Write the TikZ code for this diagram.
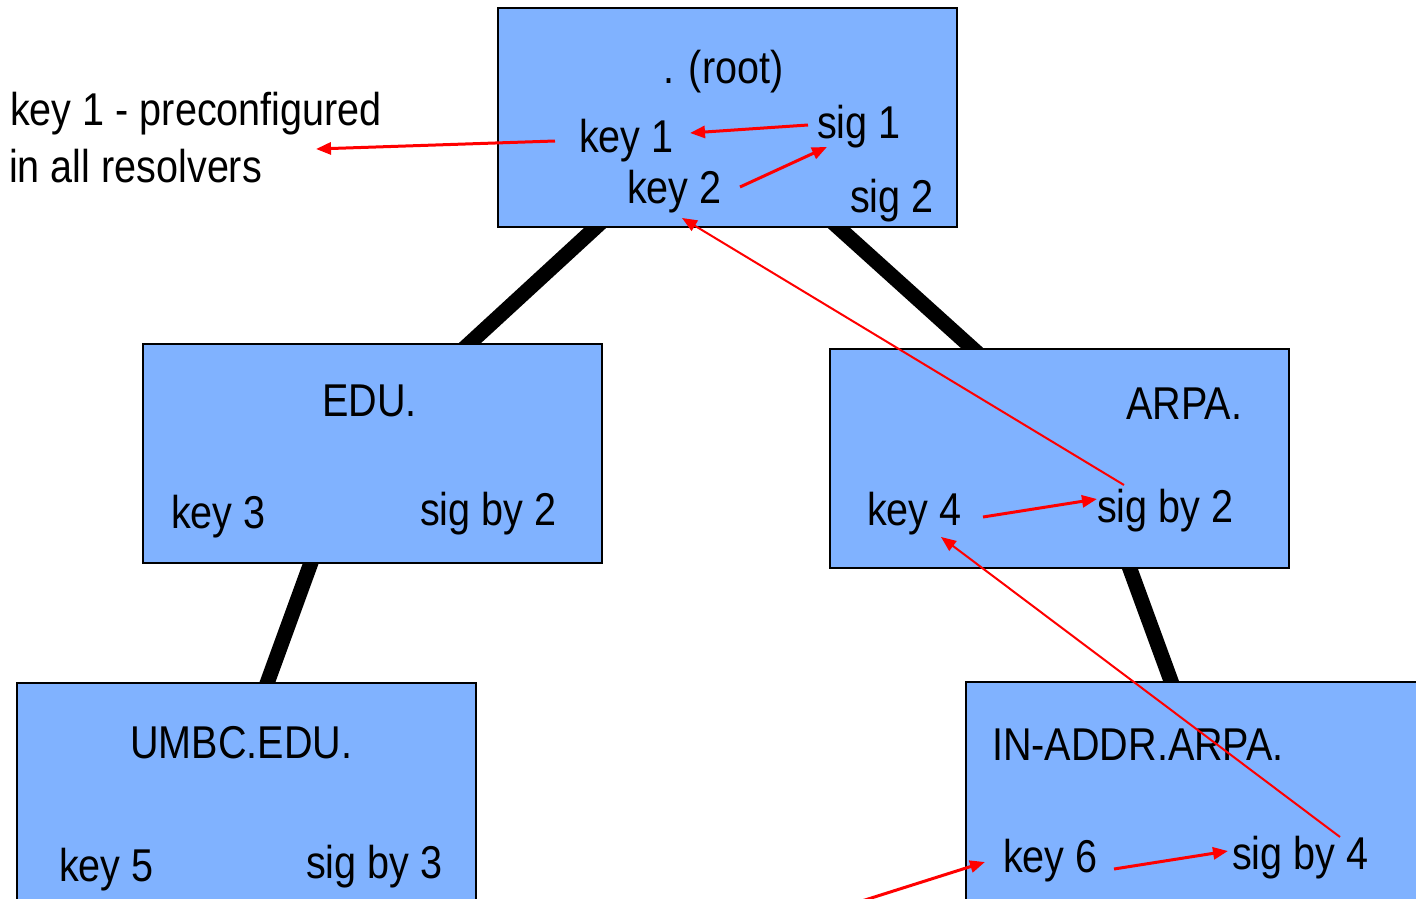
\documentclass[tikz,border=0pt]{standalone}
\usepackage{fontspec}
\setmainfont[FakeStretch=0.86]{Liberation Sans}
\usetikzlibrary{arrows.meta}
\pgfdeclarelayer{background}
\pgfsetlayers{background,main}
\definecolor{zonefill}{RGB}{128,178,255}
\definecolor{sigred}{RGB}{255,0,0}
\begin{document}
\begin{tikzpicture}[x=1pt,y=-1pt,
  zone/.style={draw=black, line width=2pt, fill=zonefill,
    minimum width=459pt, minimum height=219pt, inner sep=0pt},
  lbl/.style={anchor=base west, inner sep=0pt, font=\fontsize{46}{57}\selectfont},
  tree/.style={line width=15pt, black, shorten <=-14pt, shorten >=-14pt},
  sigarrow/.style={draw=sigred, line width=3pt, -{Triangle[length=15pt,width=12pt]}},
  thinarrow/.style={sigarrow, line width=2pt},
]
\useasboundingbox (0,0) rectangle (1416,899);
\clip (0,0) rectangle (1416,899);

% zones
\node[zone] (root)   at (727,117.5)   {};
\node[zone] (edu)    at (372.5,453.5) {};
\node[zone] (arpa)   at (1059.5,458.5){};
\node[zone] (umbc)   at (246.5,792.5) {};
\node[zone] (inaddr) at (1195.5,791.5){};

% delegation links, behind the zones
\begin{pgfonlayer}{background}
  \draw[tree] ([xshift=-132pt]root.south) -- ([xshift=97.5pt]edu.north);
  \draw[tree] ([xshift=112pt]root.south)  -- ([xshift=-87.5pt]arpa.north);
  \draw[tree] ([xshift=-62pt]edu.south)   -- ([xshift=21pt]umbc.north);
  \draw[tree] ([xshift=70.5pt]arpa.south) -- ([xshift=-24.5pt]inaddr.north);
\end{pgfonlayer}

% labels
\node[lbl] (rootlbl) at (663,83)  {. (root)};
\node[lbl] (k1)      at (579,152) {key 1};
\node[lbl] (s1)      at (817,138) {sig 1};
\node[lbl] (k2)      at (627,203) {key 2};
\node[lbl] (s2)      at (850,212) {sig 2};
\node[lbl] (note1)   at (10,125)  {key 1 - preconfigured};
\node[lbl] (note2)   at (9,182)   {in all resolvers};

\node[lbl] (edulbl)  at (322,416) {EDU.};
\node[lbl] (k3)      at (171,528) {key 3};
\node[lbl] (s3)      at (420,525) {sig by 2};

\node[lbl] (arpalbl) at (1126,419) {ARPA.};
\node[lbl] (k4)      at (867,525)  {key 4};
\node[lbl] (s4)      at (1097,522) {sig by 2};

\node[lbl] (umbclbl) at (130,758) {UMBC.EDU.};
\node[lbl] (k5)      at (59,881)  {key 5};
\node[lbl] (s5)      at (306,878) {sig by 3};

\node[lbl] (inaddrlbl) at (992,760)  {IN-ADDR.ARPA.};
\node[lbl] (k6)        at (1003,872) {key 6};
\node[lbl] (s6)        at (1232,869) {sig by 4};

% chain of trust
\coordinate (resolverin) at (786,925);
\draw[sigarrow]  ([shift={(-24,-11)}]k1.base west) -- ([shift={(306,24)}]note1.base west);
\draw[sigarrow]  ([shift={(-9,-13)}]s1.base west)  -- ([shift={(111,-19)}]k1.base west);
\draw[sigarrow]  ([shift={(113,-16)}]k2.base west) -- ([shift={(10,9)}]s1.base west);
\draw[thinarrow] ([shift={(27,-37)}]s4.base west)  -- ([shift={(55,15)}]k2.base west);
\draw[sigarrow]  ([shift={(116,-8)}]k4.base west)  -- ([shift={(0,-23)}]s4.base west);
\draw[thinarrow] ([shift={(108,-32)}]s6.base west) -- ([shift={(74,12)}]k4.base west);
\draw[sigarrow]  ([shift={(111,-3)}]k6.base west)  -- ([shift={(-4,-18)}]s6.base west);
\draw[sigarrow]  (resolverin) -- ([shift={(-18,-10)}]k6.base west);
\end{tikzpicture}
\end{document}
